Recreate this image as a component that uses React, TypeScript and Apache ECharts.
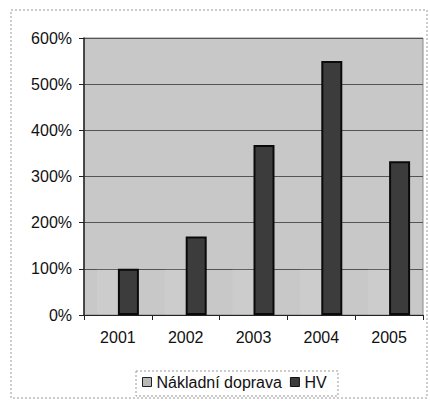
import React, { useEffect, useRef } from "react";
import * as echarts from "echarts";

const years = ["2001", "2002", "2003", "2004", "2005"];
const nakladniDoprava = [100, 100, 100, 100, 100];
const hv = [100, 170, 368, 550, 333];
const yTicks = [0, 100, 200, 300, 400, 500, 600];

export default function App() {
  const ref = useRef<HTMLDivElement>(null);
  useEffect(() => {
    if (!ref.current) return;
    const chart = echarts.init(ref.current, undefined, { renderer: "svg" });
    const font = "'Liberation Sans', Arial, sans-serif";
    chart.setOption({
      animation: false,
      backgroundColor: "#ffffff",
      textStyle: { fontFamily: font },
      grid: {
        left: 84,
        top: 38,
        right: 7,
        bottom: 87,
        show: true,
        backgroundColor: "#c8c8c8",
        borderColor: "#8a8a8a",
        borderWidth: 1,
      },
      legend: {
        left: 142,
        top: 374,
        icon: "rect",
        itemWidth: 9,
        itemHeight: 9,
        itemGap: 8,
        padding: 0,
        itemStyle: { borderColor: "#222", borderWidth: 1 },
        textStyle: { fontSize: 16, color: "#111", fontFamily: font },
        data: [
          { name: "Nákladní doprava", itemStyle: { color: "#b8b8b8", borderColor: "#222", borderWidth: 1 } },
          { name: "HV", itemStyle: { color: "#3c3c3c", borderColor: "#111", borderWidth: 1 } },
        ],
      },
      xAxis: {
        type: "category",
        data: years,
        axisLine: { show: true, lineStyle: { color: "#222", width: 1 } },
        axisTick: { show: true, alignWithLabel: false, length: 5, lineStyle: { color: "#222" } },
        axisLabel: { fontSize: 16, color: "#111", margin: 14, fontFamily: font },
      },
      yAxis: {
        type: "value",
        min: 0,
        max: 600,
        interval: 100,
        axisLine: { show: true, lineStyle: { color: "#222", width: 1.5 } },
        axisTick: { show: true, length: 5, lineStyle: { color: "#222" } },
        axisLabel: {
          fontSize: 16,
          color: "#111",
          margin: 12,
          fontFamily: font,
          formatter: (v: number) => (yTicks.includes(v) ? v + "%" : ""),
        },
        splitLine: { show: true, lineStyle: { color: "#555", width: 1 } },
      },
      series: [
        {
          name: "Nákladní doprava",
          type: "bar",
          data: nakladniDoprava,
          barWidth: 21,
          barGap: "0%",
          z: 1,
          itemStyle: { color: "rgba(255,255,255,0.08)", borderWidth: 0 },
        },
        {
          name: "HV",
          type: "bar",
          data: hv,
          barWidth: 21,
          barGap: "0%",
          itemStyle: { color: "#3c3c3c", borderColor: "#0a0a0a", borderWidth: 2 },
        },
      ],
      graphic: [
        {
          type: "rect",
          shape: { x: 11, y: 10, width: 416, height: 388 },
          style: { fill: "none", stroke: "#999", lineWidth: 1, lineDash: [2, 2] },
          silent: true,
        },
        {
          type: "rect",
          shape: { x: 136, y: 371, width: 202, height: 25 },
          style: { fill: "none", stroke: "#999", lineWidth: 1, lineDash: [2, 2] },
          silent: true,
        },
      ],
    });
    return () => chart.dispose();
  }, []);
  return <div ref={ref} style={{ width: 430, height: 402, position: "absolute", left: 0, top: 0 }} />;
}
